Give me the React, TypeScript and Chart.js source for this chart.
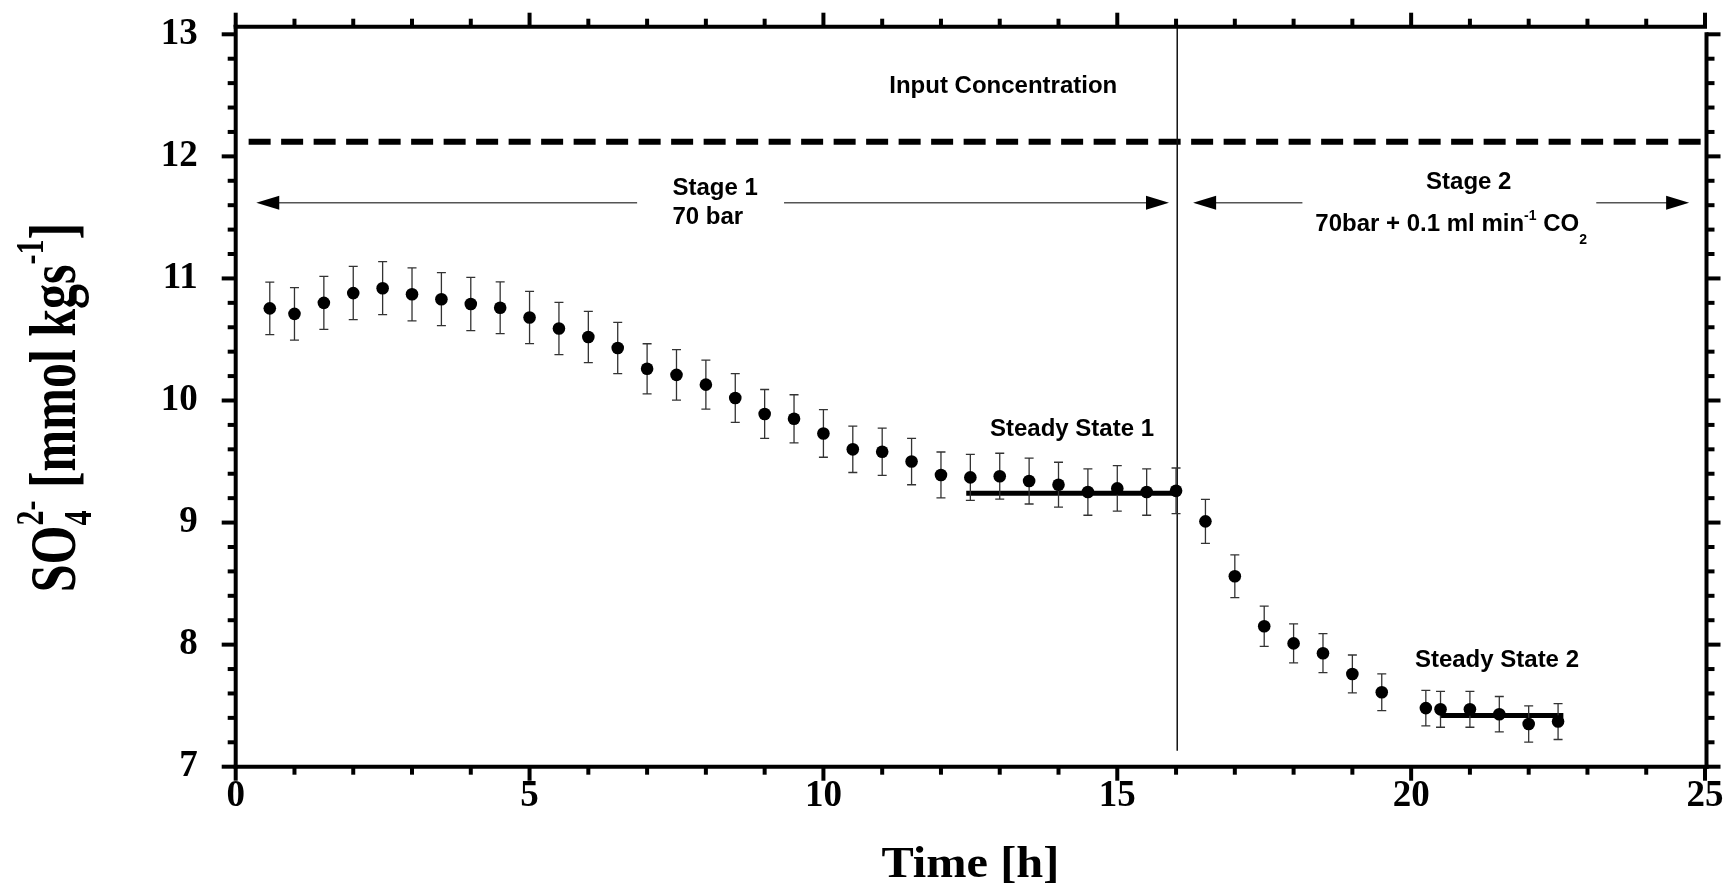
import React, { useEffect, useRef } from "react";
import { Chart, registerables } from "chart.js";

Chart.register(...registerables);

// ---- data ----
const timeH = [
  0.58, 1, 1.5, 2, 2.5, 3, 3.5, 4, 4.5, 5, 5.5, 6, 6.5, 7, 7.5, 8, 8.5, 9, 9.5, 10,
  10.5, 11, 11.5, 12, 12.5, 13, 13.5, 14, 14.5, 15, 15.5, 16,
  16.5, 17, 17.5, 18, 18.5, 19, 19.5, 20.25, 20.5, 21, 21.5, 22, 22.5,
];
const so4 = [
  10.755, 10.71, 10.8, 10.88, 10.92, 10.87, 10.83, 10.79, 10.76, 10.68, 10.59, 10.52,
  10.43, 10.26, 10.21, 10.13, 10.02, 9.89, 9.85, 9.73, 9.6, 9.58, 9.5, 9.39, 9.37,
  9.38, 9.34, 9.31, 9.25, 9.28, 9.25, 9.26,
  9.01, 8.56, 8.15, 8.01, 7.93, 7.76, 7.61, 7.48, 7.47, 7.47, 7.43, 7.35, 7.37,
];
const so4Err = [
  0.215, 0.215, 0.217, 0.218, 0.217, 0.217, 0.217, 0.218, 0.212, 0.214, 0.214, 0.21,
  0.21, 0.205, 0.207, 0.2, 0.2, 0.2, 0.197, 0.195, 0.19, 0.193, 0.19, 0.188, 0.188,
  0.188, 0.188, 0.184, 0.19, 0.187, 0.19, 0.187,
  0.18, 0.175, 0.165, 0.16, 0.16, 0.155, 0.15, 0.145, 0.147, 0.147, 0.145, 0.148, 0.147,
];
const xTickValues = [0, 5, 10, 15, 20, 25];
const yTickValues = [7, 8, 9, 10, 11, 12, 13];
const inputConcentration = 12.12;
const steadyLevel = [9.24, 7.42];
const steadyFrom = [12.43, 20.49];
const steadyTo = [16.03, 22.59];
const stageChange = 16.02;

const SERIF = "'Liberation Serif', 'Times New Roman', serif";
const SANS = "'Liberation Sans', Arial, sans-serif";

type Part = { t: string; s: number; dy?: number; stack?: boolean };

function richWidth(ctx: CanvasRenderingContext2D, parts: Part[], family: string) {
  let w = 0;
  let stackW = 0;
  for (const p of parts) {
    ctx.font = `bold ${p.s}px ${family}`;
    const m = ctx.measureText(p.t).width;
    if (p.stack) {
      stackW = m;
      continue;
    }
    w += Math.max(m, stackW);
    stackW = 0;
  }
  return w;
}

function drawRich(ctx: CanvasRenderingContext2D, parts: Part[], x: number, y: number, family: string) {
  let cx = x;
  let stackW = 0;
  ctx.textAlign = "left";
  ctx.textBaseline = "alphabetic";
  for (const p of parts) {
    ctx.font = `bold ${p.s}px ${family}`;
    const m = ctx.measureText(p.t).width;
    ctx.fillText(p.t, cx, y + (p.dy || 0));
    if (p.stack) {
      stackW = m;
      continue;
    }
    cx += Math.max(m, stackW);
    stackW = 0;
  }
}

const drawPlugin = {
  id: "sketch",
  beforeDatasetsDraw(chart: any) {
    const ctx: CanvasRenderingContext2D = chart.ctx;
    const xs = chart.scales.x;
    const ys = chart.scales.y;
    const X = (v: number) => xs.getPixelForValue(v);
    const Y = (v: number) => ys.getPixelForValue(v);
    const area = chart.chartArea;
    ctx.save();
    // input concentration dashed line
    ctx.strokeStyle = "#000";
    ctx.lineWidth = 6;
    ctx.setLineDash([22, 10.5]);
    ctx.beginPath();
    ctx.moveTo(X(0.22), Y(inputConcentration));
    ctx.lineTo(X(25), Y(inputConcentration));
    ctx.stroke();
    ctx.setLineDash([]);
    // stage boundary
    ctx.lineWidth = 1.5;
    ctx.strokeStyle = "#111";
    ctx.beginPath();
    ctx.moveTo(X(stageChange), area.top - 9);
    ctx.lineTo(X(stageChange), Y(7.13));
    ctx.stroke();
    // steady state lines
    ctx.strokeStyle = "#000";
    ctx.lineWidth = 5;
    for (let i = 0; i < steadyLevel.length; i++) {
      ctx.beginPath();
      ctx.moveTo(X(steadyFrom[i]), Y(steadyLevel[i]));
      ctx.lineTo(X(steadyTo[i]), Y(steadyLevel[i]));
      ctx.stroke();
    }
    // arrows
    const ay = Y(11.62);
    const head = (tip: number, dir: number) => {
      ctx.fillStyle = "#000";
      ctx.beginPath();
      ctx.moveTo(tip, ay);
      ctx.lineTo(tip - dir * 23, ay - 7);
      ctx.lineTo(tip - dir * 23, ay + 7);
      ctx.closePath();
      ctx.fill();
    };
    const seg = (a: number, b: number) => {
      ctx.strokeStyle = "#555";
      ctx.lineWidth = 1.5;
      ctx.beginPath();
      ctx.moveTo(a, ay);
      ctx.lineTo(b, ay);
      ctx.stroke();
    };
    seg(X(0.35) + 20, X(6.83));
    seg(X(9.33), X(15.88) - 20);
    head(X(0.35), -1);
    head(X(15.88), 1);
    seg(X(16.29) + 20, X(18.15));
    seg(X(23.15), X(24.73) - 20);
    head(X(16.29), -1);
    head(X(24.73), 1);
    // error bars
    ctx.strokeStyle = "#333";
    ctx.lineWidth = 1.3;
    for (let i = 0; i < timeH.length; i++) {
      const x = X(timeH[i]);
      const y1 = Y(so4[i] + so4Err[i]);
      const y2 = Y(so4[i] - so4Err[i]);
      ctx.beginPath();
      ctx.moveTo(x, y1);
      ctx.lineTo(x, y2);
      ctx.moveTo(x - 4.5, y1);
      ctx.lineTo(x + 4.5, y1);
      ctx.moveTo(x - 4.5, y2);
      ctx.lineTo(x + 4.5, y2);
      ctx.stroke();
    }
    ctx.restore();
  },
  afterDraw(chart: any) {
    const ctx: CanvasRenderingContext2D = chart.ctx;
    const xs = chart.scales.x;
    const ys = chart.scales.y;
    const X = (v: number) => xs.getPixelForValue(v);
    const Y = (v: number) => ys.getPixelForValue(v);
    const area = chart.chartArea;
    const L = area.left;
    const R = area.right + 1.5;
    const B = area.bottom;
    const T = area.top;
    const topY = T - 7.6;
    ctx.save();
    ctx.strokeStyle = "#000";
    ctx.lineWidth = 4;
    ctx.lineCap = "butt";
    const line = (x1: number, y1: number, x2: number, y2: number) => {
      ctx.beginPath();
      ctx.moveTo(x1, y1);
      ctx.lineTo(x2, y2);
      ctx.stroke();
    };
    // frame
    line(L, topY - 2, L, B + 2);
    line(L - 2, B, R + 2, B);
    line(L - 2, topY, X(25) + 2, topY);
    line(R, T - 2, R, B + 2);
    // x ticks (bottom and top)
    for (let v = 0; v <= 25; v++) {
      const major = v % 5 === 0;
      const len = major ? 14 : 8;
      const x = X(v);
      line(x, B, x, B + len);
      line(x, topY, x, topY - len);
    }
    // y ticks (left and right)
    for (let k = 0; k <= 30; k++) {
      const v = 7 + k * 0.2;
      const major = k % 5 === 0;
      const len = major ? 14 : 8;
      const y = Y(v);
      line(L, y, L - len, y);
      line(R, y, R + len, y);
    }
    // axis titles
    ctx.fillStyle = "#000";
    ctx.save();
    ctx.translate((L + area.right) / 2, 877);
    ctx.scale(1.1, 1);
    ctx.font = `bold 44px ${SERIF}`;
    ctx.textAlign = "center";
    ctx.textBaseline = "alphabetic";
    ctx.fillText("Time [h]", 0, 0);
    ctx.restore();

    const F = 50;
    const yParts: Part[] = [
      { t: "SO", s: F },
      { t: "4", s: F * 0.6, dy: F * 0.24, stack: true },
      { t: "2-", s: F * 0.6, dy: -F * 0.5 },
      { t: " [mmol kgs", s: F },
      { t: "-1", s: F * 0.6, dy: -F * 0.5 },
      { t: "]", s: F },
    ];
    const yw = richWidth(ctx, yParts, SERIF);
    ctx.save();
    ctx.translate(75, (T + B) / 2 + 7 + yw / 2);
    ctx.rotate(-Math.PI / 2);
    ctx.scale(1, 1.3);
    drawRich(ctx, yParts, 0, 0, SERIF);
    ctx.restore();

    // annotations
    ctx.fillStyle = "#000";
    ctx.font = `bold 24px ${SANS}`;
    ctx.textBaseline = "alphabetic";
    ctx.textAlign = "center";
    ctx.fillText("Input Concentration", X(13.06), Y(12.517));
    ctx.fillText("Stage 2", X(20.98), Y(11.733));
    ctx.fillText("Steady State 1", X(14.23), Y(9.71));
    ctx.fillText("Steady State 2", X(21.46), Y(7.82));
    ctx.textAlign = "left";
    ctx.fillText("Stage 1", X(7.43), Y(11.684));
    ctx.fillText("70 bar", X(7.43), Y(11.446));
    const s2: Part[] = [
      { t: "70bar + 0.1 ml min", s: 24 },
      { t: "-1", s: 14, dy: -10.5 },
      { t: " CO", s: 24 },
      { t: "2", s: 14, dy: 13 },
    ];
    drawRich(ctx, s2, X(18.37), Y(11.39), SANS);
    ctx.restore();
  },
};

export default function App() {
  const ref = useRef<HTMLCanvasElement | null>(null);
  useEffect(() => {
    document.body.style.margin = "0";
    const canvas = ref.current;
    if (!canvas) return;
    const tickFont = { family: SERIF, size: 37, weight: "bold" as const };
    const chart = new Chart(canvas, {
      type: "scatter",
      data: {
        datasets: [
          {
            data: timeH.map((t, i) => ({ x: t, y: so4[i] })),
            pointRadius: 6.3,
            pointHoverRadius: 6.3,
            pointBackgroundColor: "#000",
            pointBorderColor: "#000",
            pointBorderWidth: 0,
            showLine: false,
          },
        ],
      },
      options: {
        responsive: false,
        animation: false,
        devicePixelRatio: 1,
        events: [],
        layout: { padding: { top: 34.3, right: 23, bottom: 0, left: 0 } },
        plugins: { legend: { display: false }, tooltip: { enabled: false } },
        scales: {
          x: {
            type: "linear",
            min: 0,
            max: 25,
            afterBuildTicks: (s: any) => {
              s.ticks = xTickValues.map((v) => ({ value: v }));
            },
            afterFit: (s: any) => {
              s.height = 128.3;
              s.paddingLeft = 0;
              s.paddingRight = 0;
            },
            grid: { display: false, drawTicks: false },
            border: { display: false },
            ticks: { font: tickFont, color: "#000", padding: 8, maxRotation: 0, autoSkip: false },
          },
          y: {
            type: "linear",
            min: 7,
            max: 13,
            afterBuildTicks: (s: any) => {
              s.ticks = yTickValues.map((v) => ({ value: v }));
            },
            afterFit: (s: any) => {
              s.width = 235.7;
              s.paddingTop = 0;
              s.paddingBottom = 0;
            },
            grid: { display: false, drawTicks: false },
            border: { display: false },
            ticks: { font: tickFont, color: "#000", padding: 38, autoSkip: false },
          },
        },
      },
      plugins: [drawPlugin],
    });
    return () => chart.destroy();
  }, []);
  return <canvas ref={ref} width={1728} height={895} style={{ display: "block" }} />;
}
